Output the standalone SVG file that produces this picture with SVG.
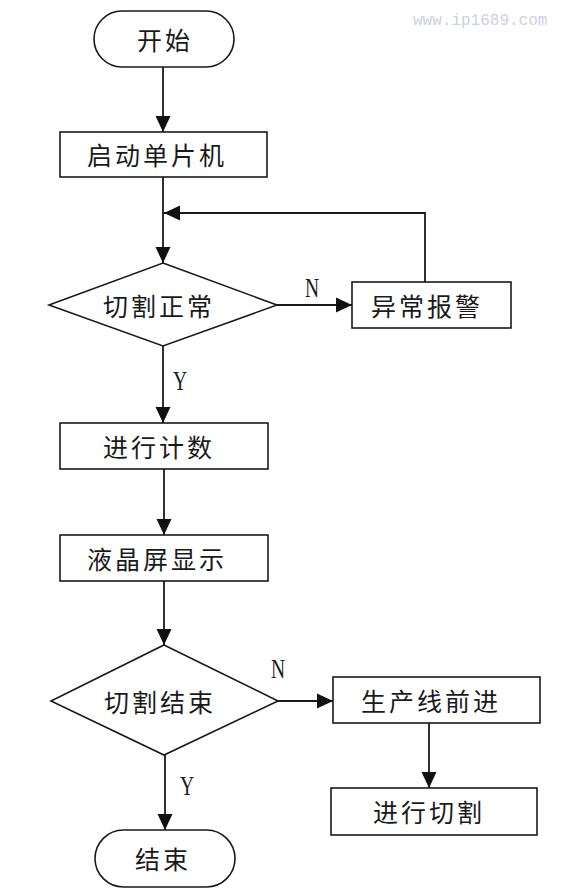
<svg xmlns="http://www.w3.org/2000/svg" width="564" height="896" viewBox="0 0 564 896">
<style>
.s{fill:#fff;stroke:#1a1a1a;stroke-width:1.6}
.t{font-family:"Noto Sans CJK SC","Noto Sans",sans-serif;font-size:25px;fill:#1a1a1a;text-anchor:middle;dominant-baseline:central;letter-spacing:3px}
.l{font-family:"Liberation Serif",serif;font-size:28px;fill:#1a1a1a;text-anchor:middle;dominant-baseline:central}
.c{fill:none;stroke:#1a1a1a;stroke-width:1.8;marker-end:url(#a)}
.w{font-family:"Liberation Mono",monospace;font-size:16px;fill:#c9d2e3;dominant-baseline:central}
</style>
<defs>
<marker id="a" markerUnits="userSpaceOnUse" markerWidth="18" markerHeight="16" refX="16" refY="8" orient="auto">
<path d="M0,0.5 L16,8 L0,15.5 Z" fill="#111"/>
</marker>
</defs>
<rect x="0" y="0" width="564" height="896" fill="#fff"/>
<text class="w" x="413" y="21">www.ip1689.com</text>
<g id="connectors">
<path class="c" d="M163,67 V132"/>
<path class="c" d="M163,177 V263"/>
<path class="c" d="M425,282 V213 H164"/>
<path class="c" d="M277,305 H352"/>
<path class="c" d="M163,346 V423"/>
<path class="c" d="M164,469 V535"/>
<path class="c" d="M164,581 V645"/>
<path class="c" d="M278,701 H333"/>
<path class="c" d="M429,723 V788"/>
<path class="c" d="M165,755 V830"/>
<text class="l" transform="translate(312,287) scale(0.7,1)">N</text>
<text class="l" transform="translate(180,380) scale(0.7,1)">Y</text>
<text class="l" transform="translate(278,668) scale(0.7,1)">N</text>
<text class="l" transform="translate(187,785) scale(0.7,1)">Y</text>
</g>
<g id="start"><rect class="s" x="94" y="11" width="140" height="56" rx="28"/><text class="t" x="165" y="39">开始</text></g>
<g id="init"><rect class="s" x="60" y="132" width="207" height="45"/><text class="t" x="157" y="154">启动单片机</text></g>
<g id="check1"><path class="s" d="M163,263 L277,305 L163,346 L49,305 Z"/><text class="t" x="159" y="305">切割正常</text></g>
<g id="alarm"><rect class="s" x="352" y="282" width="159" height="46"/><text class="t" x="427" y="305">异常报警</text></g>
<g id="count"><rect class="s" x="60" y="423" width="208" height="46"/><text class="t" x="159" y="446">进行计数</text></g>
<g id="lcd"><rect class="s" x="60" y="535" width="208" height="46"/><text class="t" x="157" y="558">液晶屏显示</text></g>
<g id="check2"><path class="s" d="M164,645 L278,701 L164,755 L51,701 Z"/><text class="t" x="160" y="701">切割结束</text></g>
<g id="advance"><rect class="s" x="333" y="677" width="207" height="46"/><text class="t" x="431" y="700">生产线前进</text></g>
<g id="cut"><rect class="s" x="331" y="788" width="206" height="47"/><text class="t" x="429" y="811">进行切割</text></g>
<g id="end"><rect class="s" x="95" y="830" width="140" height="57" rx="28.5"/><text class="t" x="163" y="858">结束</text></g>
</svg>
